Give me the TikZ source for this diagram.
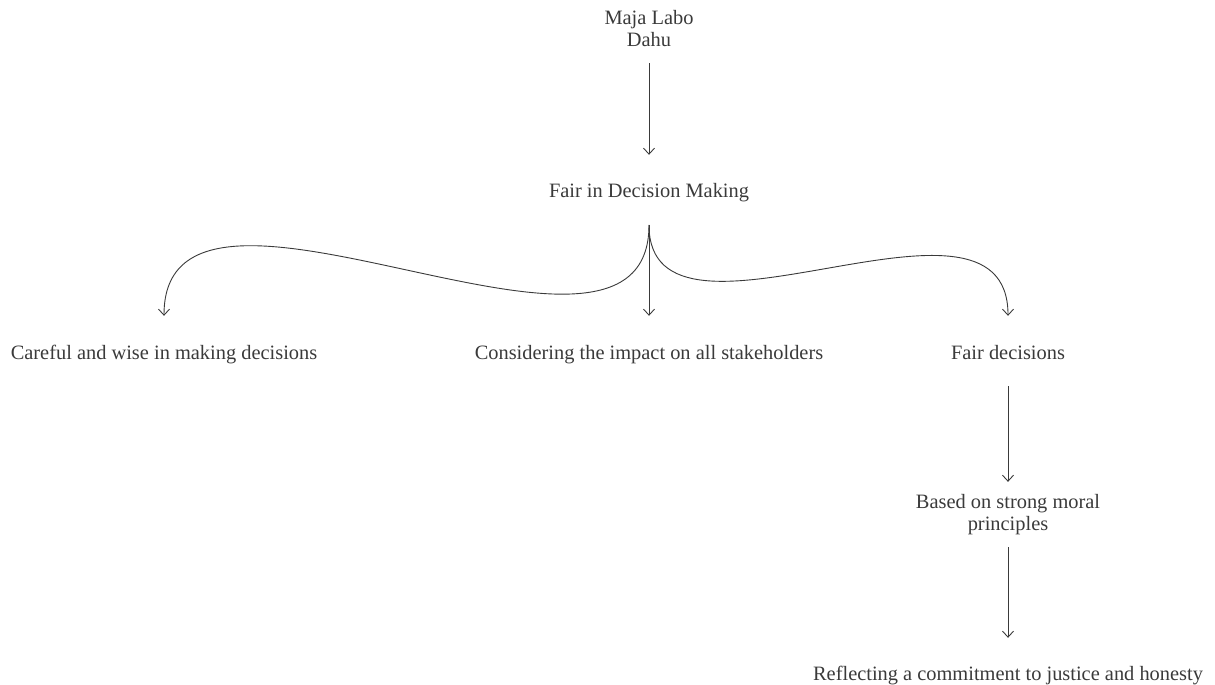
\documentclass[tikz,border=0pt]{standalone}
\usepackage{fontspec}
\setmainfont{Liberation Serif}
\usetikzlibrary{arrows.meta}
\definecolor{ink}{HTML}{3A3A3A}
\tikzset{
  lbl/.style={inner sep=0pt, align=center, text=ink, font=\fontsize{20.4}{22}\selectfont},
  oneline/.style={lbl, text height=14pt, text depth=4.5pt},
  link/.style={draw=ink, line width=0.9pt, -{Straight Barb[length=6pt,width=11pt]}}
}
\begin{document}
\begin{tikzpicture}[x=1pt,y=-1pt]
    \useasboundingbox (0,0) rectangle (1215,685);
    \node[lbl] (maja) at (649,29) {Maja Labo\\Dahu};
    \node[oneline] (fair) at (649,192.25) {Fair in Decision Making};
    \node[oneline] (careful) at (164,354.25) {Careful and wise in making decisions};
    \node[oneline] (impact) at (649,354.25) {Considering the impact on all stakeholders};
    \node[oneline] (fairdec) at (1008,354.25) {Fair decisions};
    \node[lbl] (moral) at (1008,514.3) {Based on strong moral\\principles};
    \node[oneline] (reflect) at (1008,675.25) {Reflecting a commitment to justice and honesty};
    \coordinate (split) at (649,225);
    \draw[link, shorten <=16pt, shorten >=28pt] (maja) -- (fair);
    \draw[link, shorten >=29pt] (split) .. controls (649,420) and (164,120) .. (careful.north);
    \draw[link, shorten >=29pt] (split) -- (impact);
    \draw[link, shorten >=29pt] (split) .. controls (649,375) and (1008,160) .. (fairdec.north);
    \draw[link, shorten <=22.5pt, shorten >=12pt] (fairdec) -- (moral);
    \draw[link, shorten <=12.6pt, shorten >=28pt] (moral) -- (reflect);
\end{tikzpicture}
\end{document}
